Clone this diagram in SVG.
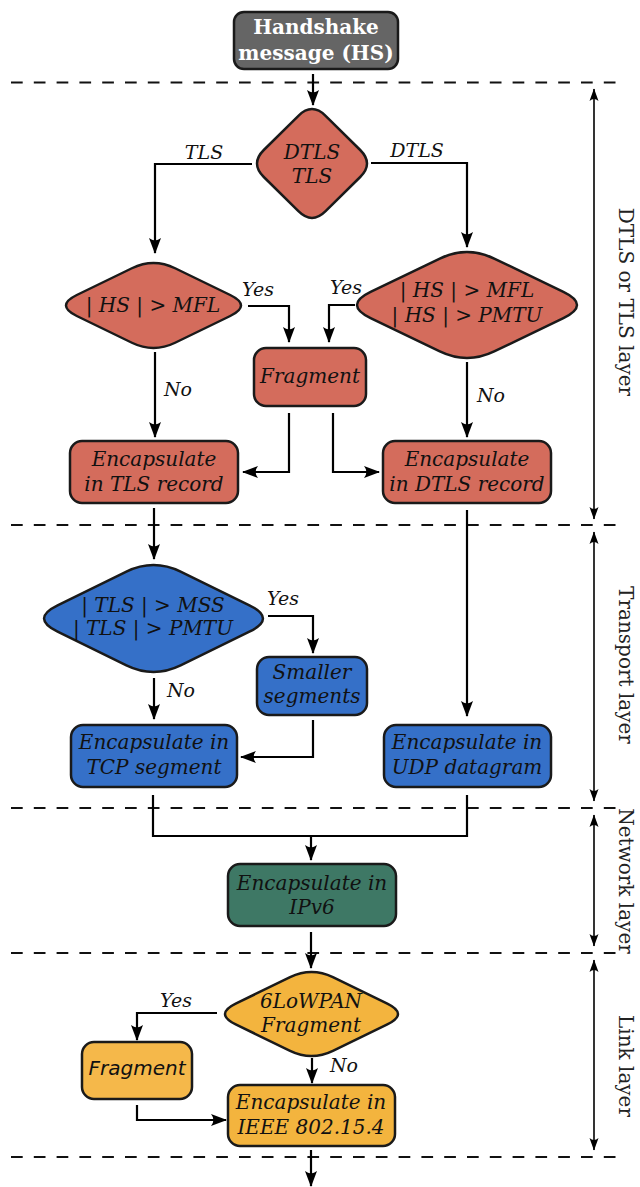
<svg xmlns="http://www.w3.org/2000/svg" width="640" height="1187" viewBox="0 0 640 1187">
  <defs>
    <marker id="ah" markerUnits="userSpaceOnUse" markerWidth="17" markerHeight="14" refX="15" refY="6.5" orient="auto">
      <path d="M16,6.5 L0,0.5 Q4.8,6.5 0,12.5 Z" fill="#000"/>
    </marker>
    <marker id="lh" markerUnits="userSpaceOnUse" markerWidth="13" markerHeight="11" refX="12" refY="5" orient="auto-start-reverse">
      <path d="M12.5,5 L0,0.5 Q3.8,5 0,9.5 Z" fill="#000"/>
    </marker>
    <style>
      .node { stroke: #1a1a1a; stroke-width: 2.5; }
      .red { fill: #d46c5c; }
      .blue { fill: #3570c8; }
      .green { fill: #3e7865; }
      .yellow { fill: #f3b43e; }
      .t { font-family: "DejaVu Serif", serif; font-style: italic; font-size: 20px; fill: #111; text-anchor: middle; }
      .ts { font-family: "DejaVu Sans", sans-serif; font-style: oblique; font-size: 20px; fill: #111; text-anchor: middle; }
      .lbl { font-family: "DejaVu Serif", serif; font-style: italic; font-size: 19px; fill: #111; text-anchor: middle; }
      .layer { font-family: "DejaVu Serif", serif; font-size: 20px; fill: #222; text-anchor: middle; }
      .conn path { fill: none; stroke: #000; stroke-width: 2.2; }
      .dash { stroke: #111; stroke-width: 2; stroke-dasharray: 11.7 11.1; }
      .range { stroke: #000; stroke-width: 1.6; marker-start: url(#lh); marker-end: url(#lh); }
    </style>
  </defs>

  <rect width="640" height="1187" fill="#fff"/>

  <!-- layer separators -->
  <g id="separators">
    <line class="dash" x1="11" y1="82.5" x2="616" y2="82.5"/>
    <line class="dash" x1="11" y1="525" x2="616" y2="525"/>
    <line class="dash" x1="11" y1="808" x2="616" y2="808"/>
    <line class="dash" x1="11" y1="953" x2="616" y2="953"/>
    <line class="dash" x1="11" y1="1157" x2="616" y2="1157"/>
  </g>

  <!-- layer extents and names -->
  <g id="layers">
    <line class="range" x1="594" y1="89" x2="594" y2="519"/>
    <line class="range" x1="594" y1="532" x2="594" y2="801"/>
    <line class="range" x1="594" y1="815" x2="594" y2="946"/>
    <line class="range" x1="594" y1="960" x2="594" y2="1150"/>
    <text class="layer" transform="translate(619,302) rotate(90)">DTLS or TLS layer</text>
    <text class="layer" transform="translate(619,665) rotate(90)">Transport layer</text>
    <text class="layer" transform="translate(619,881) rotate(90)">Network layer</text>
    <text class="layer" transform="translate(619,1066) rotate(90)">Link layer</text>
  </g>

  <!-- connectors -->
  <g id="connectors" class="conn">
    <path d="M313,74 V105" marker-end="url(#ah)"/>
    <path d="M252,164 H155 V253" marker-end="url(#ah)"/>
    <path d="M371,163 H467 V247" marker-end="url(#ah)"/>
    <path d="M248,306 H289 V342" marker-end="url(#ah)"/>
    <path d="M355,305 H329 V342" marker-end="url(#ah)"/>
    <path d="M155,352 V437" marker-end="url(#ah)"/>
    <path d="M467,362 V437" marker-end="url(#ah)"/>
    <path d="M289,413 V472 H243" marker-end="url(#ah)"/>
    <path d="M333,413 V472 H379" marker-end="url(#ah)"/>
    <path d="M154,508 V559" marker-end="url(#ah)"/>
    <path d="M467,510 V716" marker-end="url(#ah)"/>
    <path d="M268,616 H313 V653" marker-end="url(#ah)"/>
    <path d="M154,678 V719" marker-end="url(#ah)"/>
    <path d="M313,720 V757 H241" marker-end="url(#ah)"/>
    <path d="M153,795 V836 H467 V795"/>
    <path d="M311,836 V860" marker-end="url(#ah)"/>
    <path d="M311,932 V968" marker-end="url(#ah)"/>
    <path d="M217,1013 H137 V1040" marker-end="url(#ah)"/>
    <path d="M312,1058 V1083" marker-end="url(#ah)"/>
    <path d="M137,1105 V1120 H226" marker-end="url(#ah)"/>
    <path d="M311,1150 V1186" marker-end="url(#ah)"/>
  </g>

  <!-- branch labels -->
  <g id="labels">
    <text class="lbl" x="204" y="159">TLS</text>
    <text class="lbl" x="417" y="157">DTLS</text>
    <text class="lbl" x="258" y="296">Yes</text>
    <text class="lbl" x="346" y="294">Yes</text>
    <text class="lbl" x="178" y="396">No</text>
    <text class="lbl" x="491" y="402">No</text>
    <text class="lbl" x="283" y="605">Yes</text>
    <text class="lbl" x="181" y="697">No</text>
    <text class="lbl" x="176" y="1007">Yes</text>
    <text class="lbl" x="344" y="1072">No</text>
  </g>

  <g id="handshake">
    <rect class="node" x="234" y="12" width="164" height="57" rx="10" fill="#656565"/>
    <text x="316" y="34" font-family="'DejaVu Serif', serif" font-weight="bold" font-size="20" fill="#fff" text-anchor="middle">Handshake</text>
    <text x="316" y="60" font-family="'DejaVu Serif', serif" font-weight="bold" font-size="20" fill="#fff" text-anchor="middle">message (HS)</text>
  </g>

  <g id="protocol-choice">
    <path class="node red" d="M263.8,150 L298.4,115.8 Q312,102.3 325.6,115.8 L360.2,150 Q373.8,163.5 360.2,177 L325.6,211.2 Q312,224.7 298.4,211.2 L263.8,177 Q250.2,163.5 263.8,150 Z"/>
    <text class="t" x="312" y="159">DTLS</text>
    <text class="t" x="312" y="183">TLS</text>
  </g>

  <g id="tls-size-check">
    <path class="node red" d="M76.8,295 L131.9,268.25 Q153.5,257.75 175.1,268.25 L230.2,295 Q251.8,305.5 230.2,316 L175.1,342.75 Q153.5,353.25 131.9,342.75 L76.8,316 Q55.2,305.5 76.8,295 Z"/>
    <text class="t" x="153" y="312">| HS | &gt; MFL</text>
  </g>

  <g id="dtls-size-check">
    <path class="node red" d="M370.6,291.9 L439.8,258.55 Q467,245.45 494.2,258.55 L563.4,291.9 Q590.6,305 563.4,318.1 L494.2,351.45 Q467,364.55 439.8,351.45 L370.6,318.1 Q343.4,305 370.6,291.9 Z"/>
    <text class="t" x="467" y="297">| HS | &gt; MFL</text>
    <text class="t" x="467" y="322">| HS | &gt; PMTU</text>
  </g>

  <g id="hs-fragment">
    <rect class="node red" x="254" y="348" width="112" height="58" rx="12"/>
    <text class="t" x="310" y="383">Fragment</text>
  </g>

  <g id="tls-record">
    <rect class="node red" x="70" y="441" width="168" height="62" rx="12"/>
    <text class="t" x="154" y="466">Encapsulate</text>
    <text class="t" x="154" y="491">in TLS record</text>
  </g>

  <g id="dtls-record">
    <rect class="node red" x="383" y="441" width="168" height="62" rx="12"/>
    <text class="t" x="467" y="466">Encapsulate</text>
    <text class="t" x="467" y="491">in DTLS record</text>
  </g>

  <g id="tcp-size-check">
    <path class="node blue" d="M57.6,605.3 L126.4,571.6 Q153.5,558.4 180.6,571.6 L249.4,605.3 Q276.5,618.5 249.4,631.7 L180.6,665.4 Q153.5,678.6 126.4,665.4 L57.6,631.7 Q30.5,618.5 57.6,605.3 Z"/>
    <text class="t" x="153" y="612">| TLS | &gt; MSS</text>
    <text class="t" x="153" y="635">| TLS | &gt; PMTU</text>
  </g>

  <g id="smaller-segments">
    <rect class="node blue" x="257" y="657" width="110" height="58" rx="12"/>
    <text class="t" x="312" y="679">Smaller</text>
    <text class="t" x="312" y="703">segments</text>
  </g>

  <g id="tcp-segment">
    <rect class="node blue" x="71" y="725" width="166" height="62" rx="12"/>
    <text class="t" x="154" y="749">Encapsulate in</text>
    <text class="t" x="154" y="774">TCP segment</text>
  </g>

  <g id="udp-datagram">
    <rect class="node blue" x="384" y="725" width="167" height="62" rx="12"/>
    <text class="t" x="467" y="749">Encapsulate in</text>
    <text class="t" x="467" y="774">UDP datagram</text>
  </g>

  <g id="ipv6">
    <rect class="node green" x="228" y="864" width="168" height="62" rx="12"/>
    <text class="t" x="312" y="890">Encapsulate in</text>
    <text class="t" x="312" y="914">IPv6</text>
  </g>

  <g id="lowpan-check">
    <path class="node yellow" d="M235.7,1003.6 L290.1,977.2 Q311.5,966.8 332.9,977.2 L387.3,1003.6 Q408.7,1014 387.3,1024.4 L332.9,1050.8 Q311.5,1061.2 290.1,1050.8 L235.7,1024.4 Q214.3,1014 235.7,1003.6 Z"/>
    <text class="t" x="311" y="1008">6LoWPAN</text>
    <text class="t" x="311" y="1032">Fragment</text>
  </g>

  <g id="lowpan-fragment">
    <rect class="node" x="82" y="1042" width="110" height="57" rx="12" fill="#f5b84a"/>
    <text class="ts" x="137" y="1075">Fragment</text>
  </g>

  <g id="ieee-frame">
    <rect class="node yellow" x="228" y="1085" width="167" height="61" rx="12"/>
    <text class="t" x="311" y="1109">Encapsulate in</text>
    <text class="t" x="311" y="1134">IEEE 802.15.4</text>
  </g>
</svg>
